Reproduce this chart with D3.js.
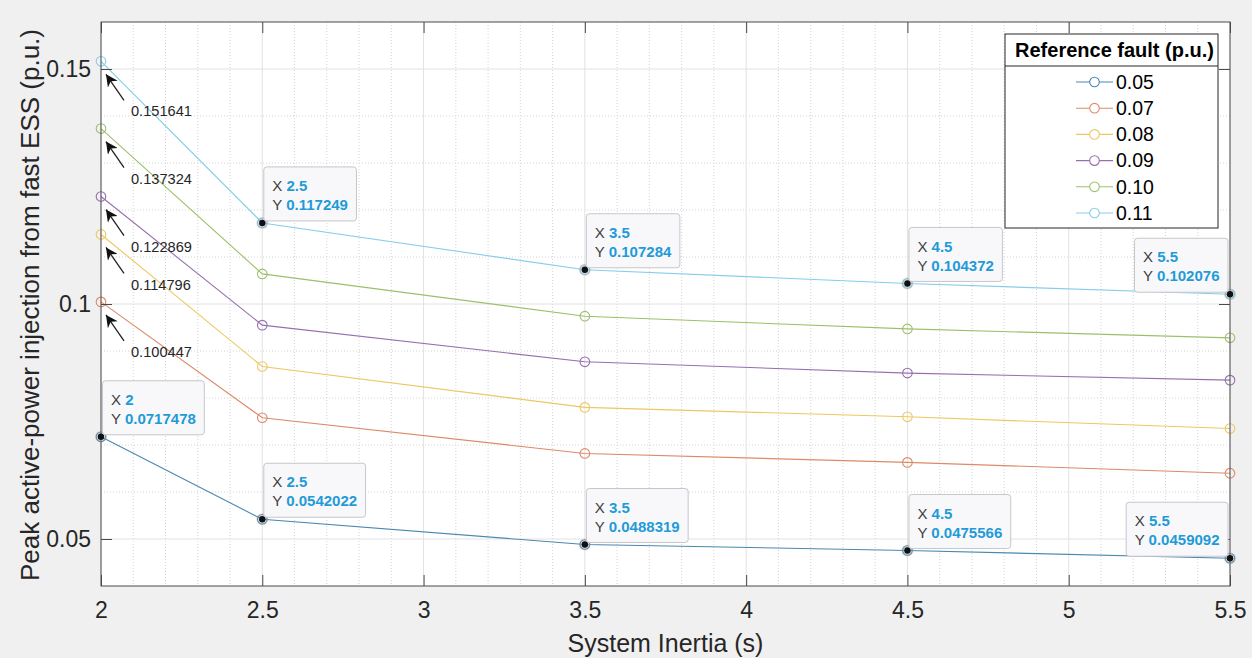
<!DOCTYPE html>
<html><head><meta charset="utf-8">
<script src="https://cdn.jsdelivr.net/npm/d3@7"></script>
<style>
html,body{margin:0;padding:0;background:#f0f0f0;}
svg{display:block;font-family:"Liberation Sans",Arial,Helvetica,sans-serif;}
</style></head><body>
<svg id="chart" width="1252" height="658"></svg>
<script>
// System inertia (s) on the x axis
const inertia = [2, 2.5, 3.5, 4.5, 5.5];
// Reference fault sizes (p.u.), one curve each
const faultLevels = ["0.05", "0.07", "0.08", "0.09", "0.10", "0.11"];
// Peak active-power injection from the fast ESS (p.u.)
const peak005 = [0.0717478, 0.0542022, 0.0488319, 0.0475566, 0.0459092];
const peak007 = [0.100447, 0.0758, 0.0682, 0.0663, 0.0640];
const peak008 = [0.114796, 0.0867, 0.0780, 0.0760, 0.0735];
const peak009 = [0.122869, 0.0955, 0.0877, 0.0853, 0.0838];
const peak010 = [0.137324, 0.1064, 0.0974, 0.0947, 0.0928];
const peak011 = [0.151641, 0.117249, 0.107284, 0.104372, 0.102076];
const xTickValues = [2, 2.5, 3, 3.5, 4, 4.5, 5, 5.5];
const yTickValues = [0.05, 0.1, 0.15];
const xTickLabels = ["2", "2.5", "3", "3.5", "4", "4.5", "5", "5.5"];
const yTickLabels = ["0.05", "0.1", "0.15"];

const seriesValues = [peak005, peak007, peak008, peak009, peak010, peak011];
const lineColors = ["#4a88b0", "#dc8a68", "#ecc862", "#9670ad", "#9cc06a", "#86cdea"];

const W = 1252, H = 658;
const m = {left: 101, top: 22, right: 22, bottom: 72};
const pw = W - m.left - m.right, ph = H - m.top - m.bottom;

const svg = d3.select("#chart");
const x = d3.scaleLinear().domain([2, 5.5]).range([m.left, m.left + pw]);
const y = d3.scaleLinear().domain([0.04, 0.16]).range([m.top + ph, m.top]);

// plot background
svg.append("rect").attr("x", m.left).attr("y", m.top).attr("width", pw).attr("height", ph)
  .attr("fill", "#ffffff");

// minor grid (dotted)
const grid = svg.append("g");
const xMinor = d3.range(2, 5.5001, 0.1).map(v => +v.toFixed(2)).filter(v => Math.abs((v * 2) - Math.round(v * 2)) > 1e-6);
const yMinor = d3.range(0.04, 0.16001, 0.01).map(v => +v.toFixed(3)).filter(v => !yTickValues.some(t => Math.abs(t - v) < 1e-6) && v > 0.0401 && v < 0.1599);
grid.selectAll(".xm").data(xMinor).join("line")
  .attr("x1", d => x(d)).attr("x2", d => x(d)).attr("y1", m.top).attr("y2", m.top + ph)
  .attr("stroke", "#d4d4d4").attr("stroke-width", 1).attr("stroke-dasharray", "1,2");
grid.selectAll(".ym").data(yMinor).join("line")
  .attr("y1", d => y(d)).attr("y2", d => y(d)).attr("x1", m.left).attr("x2", m.left + pw)
  .attr("stroke", "#d4d4d4").attr("stroke-width", 1).attr("stroke-dasharray", "1,2");
// major grid
grid.selectAll(".xM").data(xTickValues).join("line")
  .attr("x1", d => x(d)).attr("x2", d => x(d)).attr("y1", m.top).attr("y2", m.top + ph)
  .attr("stroke", "#e2e2e2").attr("stroke-width", 1);
grid.selectAll(".yM").data(yTickValues).join("line")
  .attr("y1", d => y(d)).attr("y2", d => y(d)).attr("x1", m.left).attr("x2", m.left + pw)
  .attr("stroke", "#e2e2e2").attr("stroke-width", 1);

// curves and circle markers
const line = d3.line().x((d, i) => x(inertia[i])).y(d => y(d));
const curves = svg.append("g");
seriesValues.forEach((vals, s) => {
  curves.append("path").datum(vals).attr("d", line)
    .attr("fill", "none").attr("stroke", lineColors[s]).attr("stroke-width", 1.1);
  curves.selectAll(null).data(vals).join("circle")
    .attr("cx", (d, i) => x(inertia[i])).attr("cy", d => y(d)).attr("r", 4.8)
    .attr("fill", "none").attr("stroke", lineColors[s]).attr("stroke-width", 1.1);
});

// axes with inward ticks on all four sides
const axisColor = "#4a4a4a";
const fmtX = d => xTickLabels[xTickValues.indexOf(d)];
const fmtY = d => yTickLabels[yTickValues.indexOf(d)];
const gx = svg.append("g").attr("transform", `translate(0,${m.top + ph})`)
  .call(d3.axisBottom(x).tickValues(xTickValues).tickFormat(fmtX).tickSizeInner(-11).tickSizeOuter(0).tickPadding(16));
const gxt = svg.append("g").attr("transform", `translate(0,${m.top})`)
  .call(d3.axisTop(x).tickValues(xTickValues).tickFormat("").tickSizeInner(-11).tickSizeOuter(0));
const gy = svg.append("g").attr("transform", `translate(${m.left},0)`)
  .call(d3.axisLeft(y).tickValues(yTickValues).tickFormat(fmtY).tickSizeInner(-11).tickSizeOuter(0).tickPadding(10));
const gyr = svg.append("g").attr("transform", `translate(${m.left + pw},0)`)
  .call(d3.axisRight(y).tickValues(yTickValues).tickFormat("").tickSizeInner(-11).tickSizeOuter(0));
[gx, gxt, gy, gyr].forEach(g => {
  g.select(".domain").remove();
  g.selectAll(".tick line").attr("stroke", axisColor);
  g.selectAll(".tick text").attr("fill", "#262626").style("font-size", "23px")
    .style("font-family", "'Liberation Sans',Arial,sans-serif");
});
svg.append("rect").attr("x", m.left).attr("y", m.top).attr("width", pw).attr("height", ph)
  .attr("fill", "none").attr("stroke", axisColor).attr("stroke-width", 1);

// axis titles
svg.append("text").attr("x", m.left + pw / 2).attr("y", 652).attr("text-anchor", "middle")
  .attr("fill", "#262626").style("font-size", "25px").text("System Inertia (s)");
svg.append("text").attr("transform", `translate(39,${m.top + ph / 2 + 1}) rotate(-90)`)
  .attr("text-anchor", "middle").attr("fill", "#262626").style("font-size", "26px")
  .text("Peak active-power injection from fast ESS (p.u.)");

// arrow annotations for the starting values at H = 2 s
const defs = svg.append("defs");
defs.append("marker").attr("id", "ah").attr("viewBox", "0 0 10 10").attr("refX", 10).attr("refY", 5)
  .attr("markerWidth", 16).attr("markerHeight", 12).attr("markerUnits", "userSpaceOnUse")
  .attr("orient", "auto")
  .append("path").attr("d", "M0,0 L10,5 L0,10 L3,5 Z").attr("fill", "#111");
const notes = svg.append("g");
[1, 2, 3, 4, 5].forEach(s => {
  const v = seriesValues[s][0];
  const px = x(inertia[0]), py = y(v);
  notes.append("line").attr("x1", px + 23).attr("y1", py + 39).attr("x2", px + 5).attr("y2", py + 13)
    .attr("stroke", "#222").attr("stroke-width", 1.3).attr("marker-end", "url(#ah)");
  notes.append("text").attr("x", px + 30).attr("y", py + 50).attr("dy", "0.35em")
    .attr("fill", "#262626").style("font-size", "14.6px").text(String(v));
});

// data tips
const tips = [];
[0, 1, 2, 3, 4].forEach(i => tips.push({s: 0, i}));
[1, 2, 3, 4].forEach(i => tips.push({s: 5, i}));
const tipG = svg.append("g");
tips.forEach(t => {
  const xv = inertia[t.i], yv = seriesValues[t.s][t.i];
  const px = x(xv), py = y(yv);
  tipG.append("circle").attr("cx", px).attr("cy", py).attr("r", 6).attr("fill", "#9a9a9a").attr("opacity", 0.3);
  tipG.append("circle").attr("cx", px).attr("cy", py).attr("r", 3.2).attr("fill", "#111");
  const g = tipG.append("g");
  const box = g.append("rect").attr("rx", 3).attr("ry", 3).attr("fill", "#f8f8fa")
    .attr("stroke", "#c6c6cc").attr("stroke-width", 1);
  const t1 = g.append("text").style("font-size", "15px");
  t1.append("tspan").attr("fill", "#404040").text("X ");
  t1.append("tspan").attr("fill", "#1f9bd8").attr("font-weight", "bold").text(String(xv));
  const t2 = g.append("text").style("font-size", "15px");
  t2.append("tspan").attr("fill", "#404040").text("Y ");
  t2.append("tspan").attr("fill", "#1f9bd8").attr("font-weight", "bold").text(String(yv));
  const tw = Math.max(t1.node().getComputedTextLength(), t2.node().getComputedTextLength());
  const bw = tw + 17, bh = 54;
  const onLeft = xv === 5.5;
  const bx = onLeft ? px - 2 - bw : px + 1.5;
  const by = py - 2 - bh;
  box.attr("x", bx).attr("y", by).attr("width", bw).attr("height", bh);
  t1.attr("x", bx + 8.5).attr("y", by + 19).attr("dy", "0.35em");
  t2.attr("x", bx + 8.5).attr("y", by + 38).attr("dy", "0.35em");
});

// legend
const lg = svg.append("g");
const L = {x: 1005, y: 34, w: 213, h: 194, head: 32};
lg.append("rect").attr("x", L.x).attr("y", L.y).attr("width", L.w).attr("height", L.h)
  .attr("fill", "#fff").attr("stroke", "#262626").attr("stroke-width", 1);
lg.append("line").attr("x1", L.x).attr("x2", L.x + L.w).attr("y1", L.y + L.head).attr("y2", L.y + L.head)
  .attr("stroke", "#262626").attr("stroke-width", 1);
lg.append("text").attr("x", L.x + L.w / 2 + 3).attr("y", L.y + L.head / 2).attr("dy", "0.35em")
  .attr("text-anchor", "middle").attr("font-weight", "bold").attr("fill", "#000")
  .style("font-size", "20px").text("Reference fault (p.u.)");
faultLevels.forEach((lab, s) => {
  const cy = 82 + s * 26.2;
  lg.append("line").attr("x1", 1076).attr("x2", 1113).attr("y1", cy).attr("y2", cy)
    .attr("stroke", lineColors[s]).attr("stroke-width", 1.1);
  lg.append("circle").attr("cx", 1094.5).attr("cy", cy).attr("r", 4.8).attr("fill", "#fff")
    .attr("stroke", lineColors[s]).attr("stroke-width", 1.1);
  lg.append("text").attr("x", 1116).attr("y", cy).attr("dy", "0.35em").attr("fill", "#000")
    .style("font-size", "19.5px").text(lab);
});
</script>
</body></html>
